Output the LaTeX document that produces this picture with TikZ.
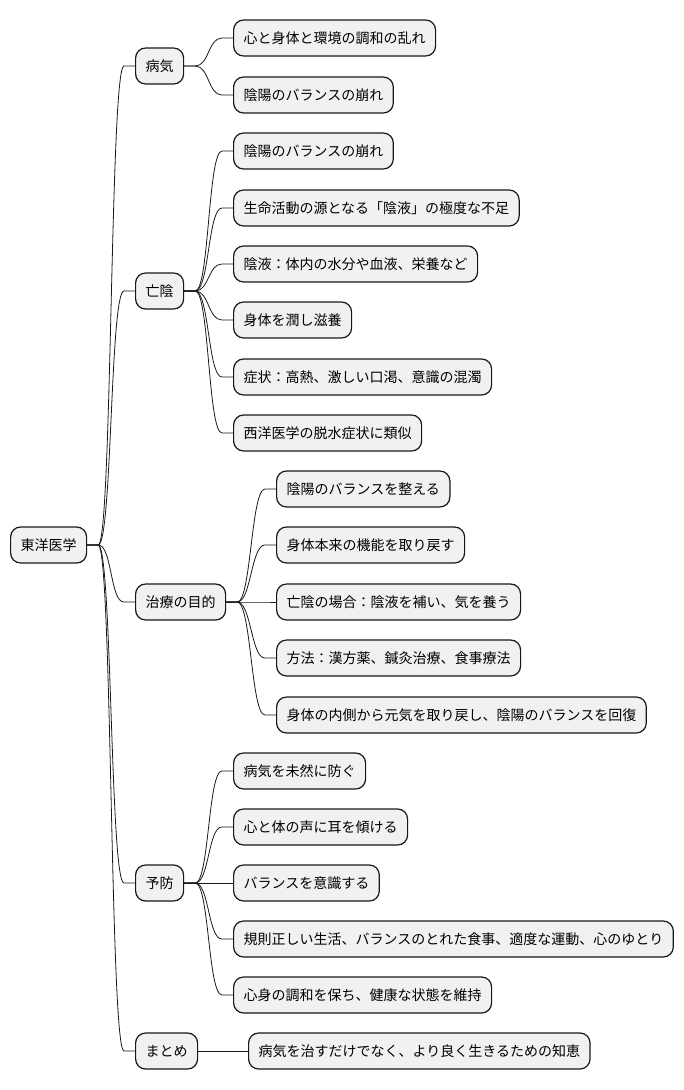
\documentclass[tikz,border=0pt]{standalone}
\usepackage{fontspec}
\setmainfont{Noto Sans CJK JP}
\usepackage{xcolor}
\usetikzlibrary{calc}
\definecolor{MapFill}{HTML}{F1F1F1}
\definecolor{MapLine}{HTML}{181818}
\tikzset{
    topic/.style={
        draw=MapLine,
        fill=MapFill,
        line width=1.2pt,
        rounded corners=10pt,
        minimum height=36pt,
        inner xsep=10pt,
        inner ysep=0pt,
        anchor=west,
        text=black,
        font=\fontsize{14}{16}\selectfont
    },
    link/.style={
        draw=MapLine,
        line width=0.8pt,
        to path={-- ++(11,0) .. controls +(14,0) and +(-14,0) .. ($(\tikztotarget)+(-11,0)$) -- (\tikztotarget)}
    }
}
\begin{document}
\begin{tikzpicture}[x=1pt, y=-1pt]
        \useasboundingbox (0,0) rectangle (684,1090);

        % Root
        \node[topic] (root) at (10,545) {東洋医学};

        % First level
        \node[topic] (sick) at (135,66) {病気};
        \node[topic] (bouin) at (135,291) {亡陰};
        \node[topic] (chiryo) at (135,602) {治療の目的};
        \node[topic] (yobou) at (135,883) {予防};
        \node[topic] (matome) at (135,1051) {まとめ};

        % Illness
        \node[topic] (sickA) at (233,38) {心と身体と環境の調和の乱れ};
        \node[topic] (sickB) at (233,95) {陰陽のバランスの崩れ};

        % Yin collapse
        \node[topic] (bouinA) at (233,151) {陰陽のバランスの崩れ};
        \node[topic] (bouinB) at (233,208) {生命活動の源となる「陰液」の極度な不足};
        \node[topic] (bouinC) at (233,264) {陰液：体内の水分や血液、栄養など};
        \node[topic] (bouinD) at (233,320) {身体を潤し滋養};
        \node[topic] (bouinE) at (233,377) {症状：高熱、激しい口渇、意識の混濁};
        \node[topic] (bouinF) at (233,433) {西洋医学の脱水症状に類似};

        % Treatment goals
        \node[topic] (chiryoA) at (276,489) {陰陽のバランスを整える};
        \node[topic] (chiryoB) at (276,545) {身体本来の機能を取り戻す};
        \node[topic] (chiryoC) at (276,602) {亡陰の場合：陰液を補い、気を養う};
        \node[topic] (chiryoD) at (276,658) {方法：漢方薬、鍼灸治療、食事療法};
        \node[topic] (chiryoE) at (276,715) {身体の内側から元気を取り戻し、陰陽のバランスを回復};

        % Prevention
        \node[topic] (yobouA) at (233,771) {病気を未然に防ぐ};
        \node[topic] (yobouB) at (233,827) {心と体の声に耳を傾ける};
        \node[topic] (yobouC) at (233,883) {バランスを意識する};
        \node[topic] (yobouD) at (233,939) {規則正しい生活、バランスのとれた食事、適度な運動、心のゆとり};
        \node[topic] (yobouE) at (233,995) {心身の調和を保ち、健康な状態を維持};

        % Summary
        \node[topic] (matomeA) at (248,1051) {病気を治すだけでなく、より良く生きるための知恵};

        % Connectors
        \draw[link] (root.east) to (sick.west);
        \draw[link] (root.east) to (bouin.west);
        \draw[link] (root.east) to (chiryo.west);
        \draw[link] (root.east) to (yobou.west);
        \draw[link] (root.east) to (matome.west);

        \draw[link] (sick.east) to (sickA.west);
        \draw[link] (sick.east) to (sickB.west);

        \draw[link] (bouin.east) to (bouinA.west);
        \draw[link] (bouin.east) to (bouinB.west);
        \draw[link] (bouin.east) to (bouinC.west);
        \draw[link] (bouin.east) to (bouinD.west);
        \draw[link] (bouin.east) to (bouinE.west);
        \draw[link] (bouin.east) to (bouinF.west);

        \draw[link] (chiryo.east) to (chiryoA.west);
        \draw[link] (chiryo.east) to (chiryoB.west);
        \draw[link] (chiryo.east) to (chiryoC.west);
        \draw[link] (chiryo.east) to (chiryoD.west);
        \draw[link] (chiryo.east) to (chiryoE.west);

        \draw[link] (yobou.east) to (yobouA.west);
        \draw[link] (yobou.east) to (yobouB.west);
        \draw[link] (yobou.east) to (yobouC.west);
        \draw[link] (yobou.east) to (yobouD.west);
        \draw[link] (yobou.east) to (yobouE.west);

        \draw[link] (matome.east) to (matomeA.west);
    \end{tikzpicture}
\end{document}
